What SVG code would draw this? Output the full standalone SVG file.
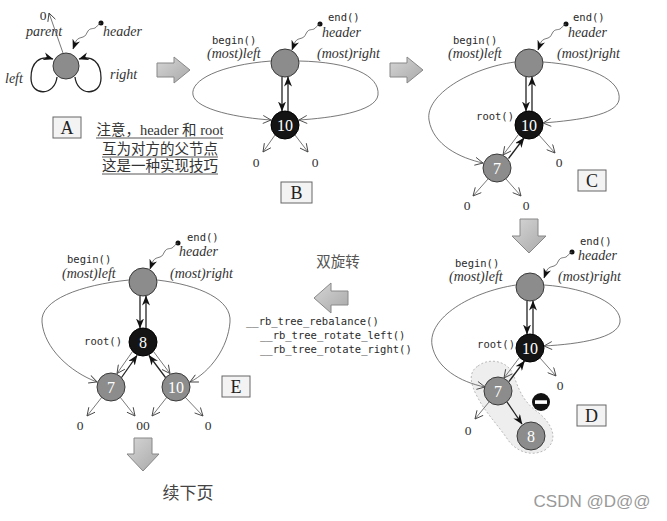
<svg xmlns="http://www.w3.org/2000/svg" width="667" height="521" viewBox="0 0 667 521">
<defs>
<marker id="open" markerWidth="10" markerHeight="9" refX="8.5" refY="4.5" orient="auto" markerUnits="userSpaceOnUse"><path d="M0.5,0.5 L8.5,4.5 L0.5,8.5" fill="none" stroke="#444" stroke-width="0.9"/></marker>
<marker id="solid" markerWidth="10" markerHeight="8" refX="9.5" refY="4" orient="auto" markerUnits="userSpaceOnUse"><path d="M0,0 L10,4 L0,8 L3,4 z" fill="#111"/></marker>
<linearGradient id="ag" x1="0" y1="0" x2="1" y2="1"><stop offset="0" stop-color="#d6d6d6"/><stop offset="1" stop-color="#a8a8a8"/></linearGradient>
</defs>
<style>
.n{fill:#8c8c8c;stroke:#3a3a3a;stroke-width:1}
.r{fill:#141414;stroke:#000;stroke-width:1}
.nt{font-family:"Liberation Serif",serif;font-size:16px;fill:#fff;text-anchor:middle}
.it{font-family:"Liberation Serif",serif;font-style:italic;font-size:14px;fill:#333}
.mo{font-family:"DejaVu Sans Mono","Liberation Mono",monospace;font-size:10.5px;fill:#2a2a2a}
.z{font-family:"Liberation Serif",serif;font-size:13.5px;fill:#333;text-anchor:middle}
.th{fill:none;stroke:#555;stroke-width:0.8}
.tk{fill:none;stroke:#222;stroke-width:1.3}
.box{fill:#f3f3f3;stroke:#666;stroke-width:1}
.bl{font-family:"Liberation Serif",serif;font-size:18px;fill:#222;text-anchor:middle}
.ba{fill:url(#ag);stroke:#888;stroke-width:1}
.cn{font-family:"Liberation Serif","Noto Sans CJK SC",sans-serif;font-size:14.5px;fill:#333;text-anchor:middle}
.ul{stroke:#444;stroke-width:0.9}
.dot{fill:#111}
</style>

<!-- Panel A -->
<g id="nodeA-header"><circle class="n" cx="66" cy="66" r="13"/></g>
<g id="labelsA">
<text class="z" x="43" y="20">0</text>
<text class="it" x="26" y="36">parent</text>
<circle class="dot" cx="101" cy="23" r="2.5"/>
<text class="it" x="103" y="36">header</text>
<text class="it" x="5" y="83">left</text>
<text class="it" x="110" y="79">right</text>
</g>
<g id="boxA"><rect class="box" x="53" y="117" width="28" height="21"/><text class="bl" x="67" y="134">A</text></g>
<g id="noteA">
<text class="cn" x="160" y="135" textLength="127" lengthAdjust="spacingAndGlyphs">注意，header 和 root</text>
<line class="ul" x1="96" y1="138" x2="223" y2="138"/>
<text class="cn" x="160" y="154">互为对方的父节点</text>
<line class="ul" x1="102" y1="157" x2="218" y2="157"/>
<text class="cn" x="160" y="171">这是一种实现技巧</text>
<line class="ul" x1="102" y1="174" x2="218" y2="174"/>
</g>

<!-- Panel B -->
<g id="nodeB-header"><circle class="n" cx="285" cy="63" r="14"/></g>
<g id="nodeB-10"><circle class="r" cx="285" cy="125" r="14"/><text class="nt" x="285" y="131">10</text></g>
<g id="labelsB">
<text class="mo" x="328" y="21">end()</text>
<circle class="dot" cx="320" cy="24" r="2.5"/>
<text class="it" x="322" y="37">header</text>
<text class="mo" x="212" y="44">begin()</text>
<text class="it" x="207" y="58">(most)left</text>
<text class="it" x="317" y="58">(most)right</text>
<text class="z" x="256" y="167">0</text>
<text class="z" x="315" y="167">0</text>
</g>
<g id="boxB"><rect class="box" x="281" y="182" width="31" height="21"/><text class="bl" x="296.5" y="199">B</text></g>

<!-- Panel C -->
<g id="nodeC-header"><circle class="n" cx="529" cy="63" r="14"/></g>
<g id="nodeC-10"><circle class="r" cx="529" cy="125" r="14"/><text class="nt" x="529" y="131">10</text></g>
<g id="nodeC-7"><circle class="n" cx="497" cy="168" r="14"/><text class="nt" x="497" y="174">7</text></g>
<g id="labelsC">
<text class="mo" x="573" y="21">end()</text>
<circle class="dot" cx="566" cy="24" r="2.5"/>
<text class="it" x="568" y="37">header</text>
<text class="mo" x="453" y="44">begin()</text>
<text class="it" x="448" y="58">(most)left</text>
<text class="it" x="557" y="58">(most)right</text>
<text class="mo" x="514" y="120" style="text-anchor:end">root()</text>
<text class="z" x="559" y="167">0</text>
<text class="z" x="467" y="210">0</text>
<text class="z" x="526" y="210">0</text>
</g>
<g id="boxC"><rect class="box" x="578" y="170" width="28" height="21"/><text class="bl" x="592" y="187">C</text></g>

<!-- Panel D -->
<g id="blobD"><path d="M478,366 C488,358 505,360 512,372 C518,385 520,398 535,410 C552,422 560,440 545,450 C530,458 515,450 508,440 C498,425 485,412 478,398 C470,384 468,372 478,366 Z" fill="#eeeeee" stroke="#aaa" stroke-width="0.8" stroke-dasharray="2,2"/></g>
<g id="nodeD-header"><circle class="n" cx="530" cy="287" r="14"/></g>
<g id="nodeD-10"><circle class="r" cx="530" cy="348" r="14"/><text class="nt" x="530" y="354">10</text></g>
<g id="nodeD-7"><circle class="n" cx="498" cy="391" r="14"/><text class="nt" x="498" y="397">7</text></g>
<g id="nodeD-8"><circle class="n" cx="531" cy="436" r="14"/><text class="nt" x="531" y="442">8</text></g>
<g id="minusD"><circle cx="541" cy="402" r="9" fill="#111"/><rect x="535" y="400.3" width="12" height="3.6" fill="#fff"/></g>
<g id="labelsD">
<text class="mo" x="580" y="245">end()</text>
<circle class="dot" cx="572" cy="252" r="2.5"/>
<text class="it" x="578" y="260">header</text>
<text class="mo" x="455" y="267">begin()</text>
<text class="it" x="449" y="281">(most)left</text>
<text class="it" x="558" y="281">(most)right</text>
<text class="mo" x="515" y="348" style="text-anchor:end">root()</text>
<text class="z" x="560" y="390">0</text>
<text class="z" x="468" y="435">0</text>
</g>
<g id="boxD"><rect class="box" x="577" y="405" width="29" height="21"/><text class="bl" x="591.5" y="422">D</text></g>

<!-- Panel E -->
<g id="nodeE-header"><circle class="n" cx="143" cy="282" r="14"/></g>
<g id="nodeE-8"><circle class="r" cx="143" cy="342" r="14"/><text class="nt" x="143" y="348">8</text></g>
<g id="nodeE-7"><circle class="n" cx="111" cy="387" r="14"/><text class="nt" x="111" y="393">7</text></g>
<g id="nodeE-10"><circle class="n" cx="176" cy="387" r="14"/><text class="nt" x="176" y="393">10</text></g>
<g id="labelsE">
<text class="mo" x="187" y="241">end()</text>
<circle class="dot" cx="178" cy="243" r="2.5"/>
<text class="it" x="179" y="256">header</text>
<text class="mo" x="67" y="263">begin()</text>
<text class="it" x="62" y="278">(most)left</text>
<text class="it" x="170" y="278">(most)right</text>
<text class="mo" x="122" y="345" style="text-anchor:end">root()</text>
<text class="z" x="80" y="430">0</text>
<text class="z" x="143" y="430">00</text>
<text class="z" x="208" y="430">0</text>
</g>
<g id="boxE"><rect class="box" x="222" y="376" width="28" height="21"/><text class="bl" x="236" y="393">E</text></g>

<!-- middle text -->
<g id="rotation-label">
<text class="cn" x="338" y="267" style="fill:#555">双旋转</text>
<text class="mo" x="246" y="325">__rb_tree_rebalance()</text>
<text class="mo" x="260" y="339">__rb_tree_rotate_left()</text>
<text class="mo" x="260" y="353">__rb_tree_rotate_right()</text>
</g>

<!-- block arrows -->
<g id="block-arrows">
<polygon class="ba" points="157,63 174,63 174,57 190,70 174,83 174,77 157,77"/>
<polygon class="ba" points="390,63 407,63 407,57 423,70 407,83 407,77 390,77"/>
<polygon class="ba" points="520,219 538,219 538,236 546,236 529,253 512,236 520,236"/>
<polygon class="ba" points="348,291 331,291 331,283 314,298 331,313 331,305 348,305"/>
<polygon class="ba" points="134,438 152,438 152,454 159,454 143,471 127,454 134,454"/>
</g>

<g id="footer">
<text class="cn" x="188" y="499" style="font-size:17px;fill:#444">续下页</text>
<text x="592" y="507" style="font-family:'Liberation Sans',Arial,sans-serif;font-size:17px;fill:#999;text-anchor:middle">CSDN @D@@</text>
</g>

<!-- connectors -->
<g id="connectors">
<!-- A -->
<line class="th" x1="63" y1="53" x2="49" y2="13" marker-end="url(#open)"/>
<path class="th" d="M101,23 c-3,1 -4,4 -6,5 s-5,0 -7,3 s-2,5 -5,6 s-5,1 -7,4 l-3,8" marker-end="url(#solid)"/>
<path class="tk" d="M57,77 C55,96 31,97 31,78 C31,62 40,55 53,59" marker-end="url(#solid)"/>
<path class="tk" d="M75,77 C77,96 101,97 101,78 C101,62 92,55 79,59" marker-end="url(#solid)"/>
<!-- B -->
<path class="th" d="M320,24 c-3,1 -4,4 -6,5 s-5,0 -7,3 s-2,5 -5,6 s-5,1 -7,4 l-3,8" marker-end="url(#solid)"/>
<line class="tk" x1="282" y1="77" x2="282" y2="111" marker-end="url(#solid)"/>
<line class="tk" x1="288" y1="111" x2="288" y2="77" marker-end="url(#solid)"/>
<path class="th" d="M271,61 C220,65 190,80 193,95 C196,110 240,118 271,120" marker-end="url(#open)"/>
<path class="th" d="M299,61 C350,62 380,75 378,95 C376,112 330,118 299,120" marker-end="url(#open)"/>
<line class="th" x1="275" y1="135" x2="263" y2="152" marker-end="url(#open)"/>
<line class="th" x1="295" y1="135" x2="308" y2="152" marker-end="url(#open)"/>
<!-- C -->
<path class="th" d="M566,24 c-3,1 -4,4 -6,5 s-5,0 -7,3 s-2,5 -5,6 s-5,1 -7,4 l-3,8" marker-end="url(#solid)"/>
<line class="tk" x1="526" y1="77" x2="526" y2="111" marker-end="url(#solid)"/>
<line class="tk" x1="532" y1="111" x2="532" y2="77" marker-end="url(#solid)"/>
<path class="th" d="M515,62 C470,68 425,95 429,120 C433,145 460,158 483,163" marker-end="url(#open)"/>
<path class="th" d="M543,62 C590,65 622,80 619,100 C616,115 580,120 543,123" marker-end="url(#open)"/>
<line class="th" x1="518.5" y1="134.5" x2="503" y2="155" marker-end="url(#open)"/>
<line class="tk" x1="508.5" y1="158.5" x2="524" y2="138" marker-end="url(#solid)"/>
<line class="th" x1="539" y1="135" x2="555" y2="153" marker-end="url(#open)"/>
<line class="th" x1="488" y1="179" x2="473" y2="196" marker-end="url(#open)"/>
<line class="th" x1="506" y1="179" x2="521" y2="196" marker-end="url(#open)"/>
<!-- D -->
<path class="th" d="M572,252 c-3,1 -4,4 -6,5 s-5,0 -7,3 s-2,5 -5,6 s-5,1 -7,4 l-3,8" marker-end="url(#solid)"/>
<line class="tk" x1="527" y1="301" x2="527" y2="334" marker-end="url(#solid)"/>
<line class="tk" x1="533" y1="334" x2="533" y2="301" marker-end="url(#solid)"/>
<path class="th" d="M516,285 C470,292 428,318 432,345 C436,368 460,382 485,387" marker-end="url(#open)"/>
<path class="th" d="M544,285 C590,288 622,305 620,322 C618,338 580,344 544,346" marker-end="url(#open)"/>
<line class="th" x1="519.5" y1="357.5" x2="504" y2="378" marker-end="url(#open)"/>
<line class="tk" x1="509" y1="381.5" x2="524.5" y2="361" marker-end="url(#solid)"/>
<line class="th" x1="540" y1="358" x2="556" y2="376" marker-end="url(#open)"/>
<line class="th" x1="489" y1="402" x2="475" y2="419" marker-end="url(#open)"/>
<line class="tk" x1="507" y1="402" x2="522" y2="424" marker-end="url(#solid)"/>
<!-- E -->
<path class="th" d="M178,243 c-3,1 -4,4 -6,5 s-5,0 -7,3 s-2,5 -5,6 s-5,1 -7,4 l-3,8" marker-end="url(#solid)"/>
<line class="tk" x1="140" y1="296" x2="140" y2="328" marker-end="url(#solid)"/>
<line class="tk" x1="146" y1="328" x2="146" y2="296" marker-end="url(#solid)"/>
<path class="th" d="M129,280 C80,285 40,300 42,322 C44,348 70,372 97,382" marker-end="url(#open)"/>
<path class="th" d="M157,280 C200,285 232,300 230,322 C228,348 210,372 190,382" marker-end="url(#open)"/>
<line class="th" x1="132.5" y1="351.5" x2="117" y2="373.5" marker-end="url(#open)"/>
<line class="tk" x1="121.5" y1="377.5" x2="137" y2="355.5" marker-end="url(#solid)"/>
<line class="th" x1="153.5" y1="351.5" x2="170" y2="373.5" marker-end="url(#open)"/>
<line class="tk" x1="165.5" y1="377.5" x2="149" y2="355.5" marker-end="url(#solid)"/>
<line class="th" x1="102" y1="397" x2="87" y2="416" marker-end="url(#open)"/>
<line class="th" x1="120" y1="397" x2="135" y2="416" marker-end="url(#open)"/>
<line class="th" x1="167" y1="397" x2="152" y2="416" marker-end="url(#open)"/>
<line class="th" x1="185" y1="397" x2="203" y2="416" marker-end="url(#open)"/>
</g>
</svg>
